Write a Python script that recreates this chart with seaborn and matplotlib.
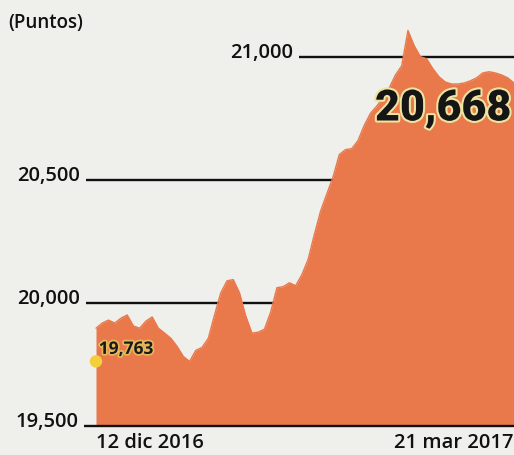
import numpy as np
import matplotlib
matplotlib.use("Agg")
import matplotlib.pyplot as plt
import matplotlib.patheffects as pe
from matplotlib.transforms import blended_transform_factory
import seaborn as sns

sns.set_theme(style="white")
plt.rcParams["font.family"] = ["Open Sans", "DejaVu Sans"]

# cierre diario (puntos), 12 dic 2016 - 21 mar 2017
puntos = [19898, 19919, 19931, 19919, 19939, 19952, 19907, 19898, 19927, 19944,
          19898, 19878, 19857, 19824, 19783, 19763, 19808, 19820, 19857, 19952,
          20042, 20091, 20096, 20042, 19948, 19878, 19882, 19894, 19964, 20063,
          20067, 20083, 20071, 20116, 20178, 20280, 20375, 20445, 20514, 20605,
          20625, 20629, 20662, 20724, 20773, 20802, 20835, 20876, 20929, 20966,
          21110, 21048, 21003, 20995, 20954, 20921, 20900, 20892, 20892, 20896,
          20905, 20917, 20937, 20942, 20937, 20929, 20917, 20896]
niveles = [19500, 20000, 20500, 21000]
etiquetas_niveles = ["19,500", "20,000", "20,500", "21,000"]
fechas = ["12 dic 2016", "21 mar 2017"]
valor_inicio = 19763
valor_cierre = 20668

naranja = "#e9784b"
fondo = "#efefec"

W, H = 514, 456
fig = plt.figure(figsize=(W / 100, H / 100), dpi=100)
fig.patch.set_facecolor(fondo)
ax = fig.add_axes([0, 0, 1, 1])
ax.set_facecolor("none")
ax.axis("off")

sesion = np.arange(len(puntos))
paso = 418 / (len(puntos) - 1)          # pixeles por sesion
ax.set_xlim(-96 / paso, len(puntos) - 1)
ax.set_ylim(19382, 21238)

def px_x(x):
    return (x - 96) / paso

# lineas de referencia (detras del area salvo la base)
inicio_linea = {19500: 84, 20000: 86, 20500: 86, 21000: 299}
ytr = blended_transform_factory(fig.transFigure, ax.transData)
for nivel, etiqueta in zip(niveles, etiquetas_niveles):
    x0 = inicio_linea[nivel]
    ax.hlines(nivel, px_x(x0), len(puntos) - 1, color="#111111", lw=1.7,
              zorder=4 if nivel == 19500 else 1)
    ax.text((x0 - 6) / W, nivel, etiqueta, transform=ytr, ha="right",
            va="baseline", fontsize=14.5, color="#111111", fontweight="semibold")

# area
ax.fill_between(sesion, 19500, puntos, color=naranja, lw=0, zorder=2)
sns.lineplot(x=sesion, y=puntos, color=naranja, lw=1, ax=ax, zorder=3)

# punto inicial
ax.scatter([sesion[0]], [valor_inicio], s=80, color="#f3cf3c", zorder=5,
           edgecolor="none")
ax.annotate(f"{valor_inicio:,}", xy=(sesion[0], valor_inicio), xytext=(2, 9),
            textcoords="offset points", ha="left", va="center", fontsize=12.5,
            fontweight="bold", color="#1a1a1a", zorder=6,
            path_effects=[pe.withStroke(linewidth=2.5, foreground="#e4b85a")])

# valor de cierre
fig.text(375 / W, 1 - 110 / H, f"{valor_cierre:,}", ha="left", va="center",
         fontsize=31, fontweight="black", color="#151515",
         family=["Roboto", "DejaVu Sans"],
         path_effects=[pe.withStroke(linewidth=3, foreground="#efe3a0")])

# textos
fig.text(8 / W, 1 - 23 / H, "(Puntos)", ha="left", va="center", fontsize=13.5,
         fontweight="semibold", color="#111111")
fig.text(96 / W, 1 - 443 / H, fechas[0], ha="left", va="center", fontsize=14.5,
         fontweight="semibold", color="#111111")
fig.text(514 / W, 1 - 443 / H, fechas[1], ha="right", va="center", fontsize=14.5,
         fontweight="semibold", color="#111111")

fig.savefig("out.png", dpi=100, facecolor=fondo)
